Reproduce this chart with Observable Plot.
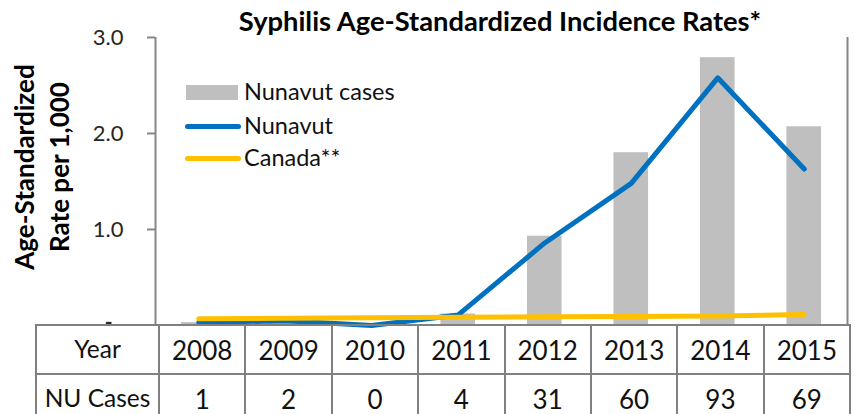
<!DOCTYPE html>
<html>
<head>
<meta charset="utf-8">
<script src="https://cdn.jsdelivr.net/npm/d3@7"></script>
<script src="https://cdn.jsdelivr.net/npm/@observablehq/plot@0.6"></script>
<style>
  html, body { margin: 0; padding: 0; background: #fff; }
  #wrap { position: relative; width: 855px; height: 414px; overflow: hidden; font-family: Lato, "Open Sans", sans-serif; }
  #chart { position: absolute; left: 0; top: 0; }
  .title { position: absolute; left: 0; width: 1000px; top: 4px; text-align: center; font-weight: bold; font-size: 27.3px; color: #000; white-space: nowrap; }
  .ylab { position: absolute; width: 320px; left: -118px; top: 132px; height: 70px; transform: rotate(-90deg); text-align: center; font-weight: bold; font-size: 26px; line-height: 35px; color: #000; white-space: nowrap; }
  .leg { position: absolute; left: 186px; font-size: 23.5px; color: #111; white-space: nowrap; }
  .leg .sw { position: absolute; left: 0; }
  .leg .tx { position: absolute; left: 58px; top: -15px; }
  table.tbl { position: absolute; left: 35px; top: 324px; border-collapse: collapse; table-layout: fixed; font-size: 26px; line-height: 1; color: #111; }
  table.tbl td { border: 2px solid #808080; text-align: center; padding: 0; height: 47px; white-space: nowrap; }
  table.tbl td.rl { font-size: 24.5px; }
</style>
</head>
<body>
<div id="wrap">
  <div id="chart"></div>
  <div class="title">Syphilis Age-Standardized Incidence Rates*</div>
  <div class="ylab">Age-Standardized<br>Rate per 1,000</div>
  <div id="legend"></div>
  <table class="tbl" id="tbl"></table>
</div>
<script>
// ---- data ----
const years = [2008, 2009, 2010, 2011, 2012, 2013, 2014, 2015];
const nuCases = [1, 2, 0, 4, 31, 60, 93, 69];
const nunavutRate = [0.03, 0.05, 0.0, 0.11, 0.86, 1.48, 2.58, 1.63];
const canadaRate = [0.07, 0.075, 0.08, 0.085, 0.09, 0.095, 0.1, 0.115];
const yTicks = [1, 2, 3];
const yZeroTick = [0];
const rateMax = 3;       // primary axis max (rate per 1,000)
const caseAxisMax = 100; // hidden secondary axis max (cases)
const seriesNames = ["Nunavut cases", "Nunavut", "Canada**"];
const rowLabels = ["Year", "NU Cases"];

const rows = years.map((y, i) => ({year: y, cases: nuCases[i], nu: nunavutRate[i], ca: canadaRate[i]}));

const gray = "#BFBFBF", blue = "#0070C0", yellow = "#FFC000", axisGray = "#868686";

const chart = Plot.plot({
  width: 855,
  height: 326,
  marginLeft: 155,
  marginRight: 8,
  marginTop: 37,
  marginBottom: 1,
  style: {fontFamily: "Lato, sans-serif", overflow: "visible", background: "transparent"},
  x: {domain: [years[0] - 0.5, years[years.length - 1] + 0.5], axis: null},
  y: {domain: [0, rateMax], axis: null},
  marks: [
    Plot.rectY(rows, {
      x1: d => d.year - 0.2, x2: d => d.year + 0.2,
      y1: 0, y2: d => d.cases / caseAxisMax * rateMax,
      fill: gray
    }),
    Plot.ruleX([years[0] - 0.5, years[years.length - 1] + 0.5], {y1: 0, y2: rateMax, stroke: axisGray, strokeWidth: 2}),
    Plot.axisY({
      ticks: yTicks,
      tickFormat: d => d.toFixed(1),
      tickSize: 8, tickPadding: 24,
      stroke: axisGray, strokeWidth: 2,
      fill: "#262626", fontSize: 22,
      label: null
    }),
    Plot.axisY({
      ticks: yZeroTick,
      tickFormat: () => "-",
      tickSize: 0, tickPadding: 43,
      fill: "#262626", fontSize: 21, fontWeight: "bold", dy: -3,
      label: null
    }),
    Plot.line(rows, {x: "year", y: "nu", stroke: blue, strokeWidth: 5, strokeLinecap: "round", strokeLinejoin: "round"}),
    Plot.line(rows, {x: "year", y: "ca", stroke: yellow, strokeWidth: 5, strokeLinecap: "round", strokeLinejoin: "round"})
  ]
});
document.getElementById("chart").appendChild(chart);

// ---- legend ----
const legend = document.getElementById("legend");
const legItems = [
  {name: seriesNames[0], top: 92, sw: `<div style="width:52px;height:15px;background:${gray};margin-top:-7px"></div>`},
  {name: seriesNames[1], top: 126, sw: `<div style="width:56px;height:5px;border-radius:3px;background:${blue};margin-top:-2px;margin-left:-1px"></div>`},
  {name: seriesNames[2], top: 158, sw: `<div style="width:56px;height:5px;border-radius:3px;background:${yellow};margin-top:-2px;margin-left:-1px"></div>`}
];
legItems.forEach(it => {
  const d = document.createElement("div");
  d.className = "leg";
  d.style.top = it.top + "px";
  d.innerHTML = `<div class="sw">${it.sw}</div><div class="tx">${it.name}</div>`;
  legend.appendChild(d);
});

// ---- table ----
const tbl = document.getElementById("tbl");
const colW = (849 - 158) / years.length;
let html = `<colgroup><col style="width:123px">${years.map(() => `<col style="width:${colW}px">`).join("")}</colgroup>`;
html += `<tr><td class="rl">${rowLabels[0]}</td>${years.map(y => `<td>${y}</td>`).join("")}</tr>`;
html += `<tr><td class="rl">${rowLabels[1]}</td>${nuCases.map(c => `<td>${c}</td>`).join("")}</tr>`;
tbl.innerHTML = html;
</script>
</body>
</html>
